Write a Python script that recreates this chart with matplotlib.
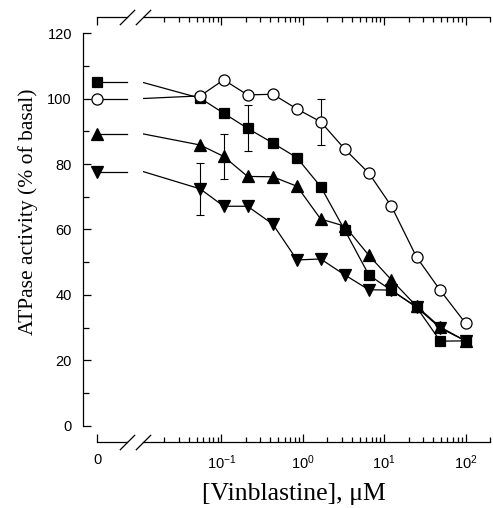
import numpy as np
import matplotlib
matplotlib.use("Agg")
import matplotlib.pyplot as plt
from matplotlib.ticker import MultipleLocator, LogLocator, NullFormatter, FixedLocator

plt.rcParams['font.family'] = 'Liberation Sans'
plt.rcParams['mathtext.fontset'] = 'custom'
plt.rcParams['mathtext.rm'] = 'Liberation Sans'
plt.rcParams['mathtext.it'] = 'Liberation Sans'

# vinblastine concentrations (uM)
conc = [0.055, 0.107, 0.21, 0.43, 0.85, 1.66, 3.3, 6.5, 12.3, 25, 49, 100]

# ATPase activity (% of basal); first value is the "0" point
squares = [104.9, 100.1, 95.5, 90.9, 86.4, 81.9, 73.1, 59.7, 46.1, 41.4, 36.3, 25.9, 26.0]
circles = [100.0, 100.8, 105.7, 101.1, 101.3, 96.8, 92.9, 84.5, 77.2, 67.1, 51.6, 41.4, 31.4]
up_tri = [89.2, 85.8, 82.3, 76.2, 76.1, 73.2, 63.2, 61.0, 52.1, 44.6, 36.6, 30.2, 26.0]
down_tri = [77.7, 72.4, 67.1, 67.1, 61.6, 50.7, 51.0, 46.1, 41.6, 41.5, 36.3, 29.9, 26.0]

# error bars: (series, index into conc, half-width)
errbars = [(squares, 2, 7.0), (circles, 5, 7.0), (up_tri, 1, 7.0), (down_tri, 0, 8.0)]

W, H = 493, 508
fig = plt.figure(figsize=(W / 100, H / 100), dpi=100)
ax0 = fig.add_axes([97 / W, (H - 442) / H, 30 / W, 425 / H])
ax1 = fig.add_axes([143 / W, (H - 442) / H, 347 / W, 425 / H])

for ax in (ax0, ax1):
    ax.set_ylim(-4.89, 124.89)
ax0.set_xlim(0, 1)
ax1.set_xscale('log')
ax1.set_xlim(0.0109, 200)

styles = [
    (squares, dict(marker='s', ms=7, mfc='k')),
    (circles, dict(marker='o', ms=8, mfc='white')),
    (up_tri, dict(marker='^', ms=8, mfc='k')),
    (down_tri, dict(marker='v', ms=8, mfc='k')),
]

lw = 0.9
for vals, st in styles:
    y0 = vals[0]
    # zero point and its stub up to the break
    ax0.plot(ax0.get_xlim(), [y0, y0], color='k', lw=lw, clip_on=False)
    ax0.plot([0], [y0], linestyle='none', mec='k', mew=0.9, clip_on=False, zorder=4, **st)
    # log part: resumes from the break at the zero level
    xs = [ax1.get_xlim()[0]] + conc
    ax1.plot(xs, vals, color='k', lw=lw, zorder=2)
    ax1.plot(conc, vals[1:], linestyle='none', mec='k', mew=0.9, clip_on=False, zorder=4, **st)

for vals, i, e in errbars:
    ax1.errorbar(conc[i], vals[i + 1], yerr=e, fmt='none', ecolor='k',
                 elinewidth=0.8, capsize=3, capthick=0.8, zorder=3)

# spines
ax0.spines['right'].set_visible(False)
ax0.spines['left'].set_position(('outward', 10))
ax0.spines['left'].set_bounds(0, 120)
ax1.spines['left'].set_visible(False)
ax1.spines['right'].set_visible(False)
for ax in (ax0, ax1):
    for s in ax.spines.values():
        s.set_linewidth(0.9)

# y axis
ax0.yaxis.set_major_locator(MultipleLocator(20))
ax0.yaxis.set_minor_locator(MultipleLocator(10))
ax0.tick_params(axis='y', which='both', direction='in', labelsize=10.5, pad=8)
ax0.tick_params(axis='y', which='major', length=6, width=0.9)
ax0.tick_params(axis='y', which='minor', length=4, width=0.9)
ax1.tick_params(axis='y', which='both', left=False, right=False, labelleft=False)

# x axis, zero part
ax0.set_xticks([0])
ax0.set_xticklabels(['0'])
ax0.tick_params(axis='x', which='both', direction='in', bottom=True, top=True, length=6,
                width=0.9, labelsize=10.5, pad=8)

# x axis, log part
ax1.xaxis.set_major_locator(FixedLocator([0.1, 1, 10, 100]))
ax1.set_xticklabels([r'$10^{-1}$', r'$10^{0}$', r'$10^{1}$', r'$10^{2}$'])
ax1.xaxis.set_minor_locator(LogLocator(base=10, subs=np.arange(2, 10)))
ax1.xaxis.set_minor_formatter(NullFormatter())
ax1.tick_params(axis='x', which='both', direction='in', bottom=True, top=True,
                labelsize=10.5, pad=8)
ax1.tick_params(axis='x', which='major', length=6, width=0.9)
ax1.tick_params(axis='x', which='minor', length=3.5, width=0.9)

# break marks
kw = dict(marker=[(-1, -1), (1, 1)], markersize=11, linestyle='none', color='k',
          mec='k', mew=0.9, clip_on=False)
ax0.plot([1, 1], [0, 1], transform=ax0.transAxes, **kw)
ax1.plot([0, 0], [0, 1], transform=ax1.transAxes, **kw)

fig.text(294 / W, 14 / H, '[Vinblastine], μM', family='Liberation Serif',
         fontsize=18.5, ha='center', va='center')
fig.text(28 / W, (H - 212) / H, 'ATPase activity (% of basal)', family='Liberation Serif',
         fontsize=15.5, ha='center', va='center', rotation=90)

fig.savefig('out.png', dpi=100)
